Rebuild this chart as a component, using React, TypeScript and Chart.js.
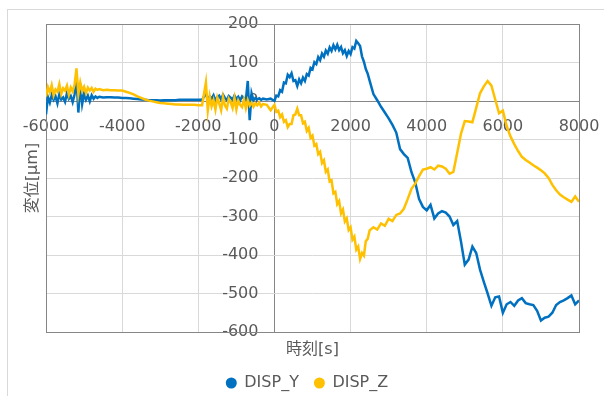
import { useEffect, useRef } from "react";
import { Chart, registerables } from "chart.js";

Chart.register(...registerables);

const FONT = '"DejaVu Sans", "Noto Sans CJK JP", sans-serif';
const TEXT = "#595959";
const GRID = "#d9d9d9";
const AXIS = "#868686";
const BLUE = "#0070c0";
const GOLD = "#ffc000";

const seriesNames = ["DISP_Y", "DISP_Z"];
const xTitle = "時刻[s]";
const yTitle = "変位[μm]";

// sample times [s]; denser where the signals are noisy
const timeSec = [
  -6000, -5950, -5900, -5850, -5800, -5750, -5700, -5650, -5600, -5550,
  -5500, -5450, -5400, -5350, -5300, -5250, -5200, -5150, -5100, -5050,
  -5000, -4950, -4900, -4850, -4800, -4750, -4700, -4650, -4600,
  -4500, -4400, -4300, -4200, -4100, -4000, -3900, -3800, -3700, -3600,
  -3500, -3400, -3300, -3200, -3100, -3000, -2900, -2800, -2700, -2600,
  -2500, -2400, -2300, -2200, -2100, -2000, -1900,
  -1800, -1750, -1700, -1650, -1600, -1550, -1500, -1450, -1400, -1350,
  -1300, -1250, -1200, -1150, -1100, -1050, -1000, -950, -900, -850,
  -800, -750, -700, -650, -600, -550, -500, -450, -400, -350, -300,
  -200, -100,
  0, 50, 100, 150, 200, 250, 300, 350, 400, 450,
  500, 550, 600, 650, 700, 750, 800, 850, 900, 950,
  1000, 1050, 1100, 1150, 1200, 1250, 1300, 1350, 1400, 1450,
  1500, 1550, 1600, 1650, 1700, 1750, 1800, 1850, 1900, 1950,
  2000, 2050, 2100, 2150, 2200, 2250, 2300, 2350, 2400, 2450, 2500,
  2600, 2700, 2800, 2900, 3000, 3100, 3200, 3300, 3400, 3500,
  3600, 3700, 3800, 3900, 4000, 4100, 4200, 4300, 4400, 4500,
  4600, 4700, 4800, 4900, 5000, 5100, 5200, 5300, 5400, 5500,
  5600, 5700, 5800, 5900, 6000, 6100, 6200, 6300, 6400, 6500,
  6600, 6700, 6800, 6900, 7000, 7100, 7200, 7300, 7400, 7500,
  7600, 7700, 7800, 7900, 8000,
];

// displacement Y [μm]
const dispY = [
  -35, 10, -4, 16, 3, 12, -6, 18, 4, 9,
  -2, 20, 6, 13, -3, 17, 62, -30, 45, -8,
  18, 3, 14, -1, 15, 6, 12, 8, 11,
  9, 10, 10, 9, 9, 8, 8, 7, 6, 5,
  4, 3, 2, 2, 2, 1, 2, 2, 2, 2,
  3, 3, 3, 3, 3, 3, 3,
  20, 3, 12, 6, 15, 1, 10, 14, 4, 16,
  8, 2, 13, 9, 3, 14, 5, 11, 2, 12,
  7, 3, 52, -50, 20, 2, 8, 4, 7, 3, 6,
  4, 6,
  0, 14, 12, 28, 24, 48, 46, 68, 62, 72,
  52, 54, 39, 56, 46, 61, 52, 70, 66, 86,
  82, 101, 96, 114, 106, 123, 115, 131, 123, 139,
  130, 145, 134, 146, 132, 140, 124, 132, 117, 130,
  122, 140, 136, 156, 150, 143, 116, 102, 83, 71, 53,
  18, 2, -15, -30, -45, -62, -82, -125, -138, -148,
  -185, -212, -255, -275, -284, -270, -305, -292, -286, -290,
  -300, -322, -312, -365, -425, -412, -378, -395, -438, -470,
  -500, -532, -510, -508, -550, -528, -522, -532, -518, -512,
  -525, -528, -530, -545, -570, -563, -560, -550, -530, -522,
  -518, -512, -505, -528, -518,
];

// displacement Z [μm]
const dispZ = [
  12, 36, 22, 41, 15, 30, 24, 44, 18, 33,
  27, 40, 16, 35, 25, 42, 85, 18, 48, 26,
  37, 21, 35, 27, 34, 24, 32, 29, 31,
  28, 29, 28, 28, 27, 27, 24, 21, 17, 12,
  8, 4, 1, -1, -3, -5, -6, -7, -8, -9,
  -9, -10, -10, -10, -10, -11, -11,
  48, -25, 12, -14, 2, -22, 9, -6, -24, 10,
  -12, -20, 6, -3, -18, 8, -22, 1, -10, -16,
  4, -19, 2, -12, -4, -15, -6, -11, -4, -14, -8,
  -10, -24,
  -10, -28, -25, -42, -35, -54, -50, -68, -60, -60,
  -37, -35, -20, -37, -37, -58, -54, -78, -70, -96,
  -90, -116, -112, -138, -132, -161, -154, -184, -178, -209,
  -206, -240, -236, -268, -260, -292, -282, -313, -305, -335,
  -328, -360, -352, -386, -378, -410, -395, -402, -364, -358, -336,
  -328, -334, -318, -324, -306, -312, -296, -292, -280, -255,
  -228, -214, -195, -178, -176, -172, -178, -168, -170, -176,
  -189, -184, -135, -85, -52, -53, -55, -18, 20, 38,
  52, 40, 4, -32, -25, -65, -92, -112, -130, -145,
  -153, -160, -167, -173, -180, -188, -200, -218, -232, -243,
  -250, -256, -262, -248, -262,
];

const frameTitlesLegend = {
  id: "frameTitlesLegend",
  beforeDraw(chart: Chart) {
    const { ctx } = chart;
    ctx.save();
    ctx.fillStyle = "#ffffff";
    ctx.fillRect(0, 0, chart.width, chart.height);
    ctx.strokeStyle = GRID;
    ctx.lineWidth = 1;
    ctx.strokeRect(7.5, 9.5, chart.width + 20, chart.height + 20);
    ctx.restore();
  },
  beforeDatasetsDraw(chart: Chart) {
    const { ctx, chartArea: a } = chart;
    ctx.save();
    ctx.strokeStyle = AXIS;
    ctx.lineWidth = 1;
    ctx.strokeRect(
      Math.round(a.left) + 0.5,
      Math.round(a.top) + 0.5,
      Math.round(a.right - a.left),
      Math.round(a.bottom - a.top)
    );
    ctx.restore();
  },
  afterDraw(chart: Chart) {
    const { ctx, chartArea: a } = chart;
    ctx.save();
    ctx.fillStyle = TEXT;
    ctx.font = `16px ${FONT}`;
    ctx.textBaseline = "middle";

    // axis titles
    ctx.textAlign = "center";
    ctx.fillText(xTitle, (a.left + a.right) / 2, a.bottom + 18);
    ctx.save();
    ctx.translate(33, (a.top + a.bottom) / 2);
    ctx.rotate(-Math.PI / 2);
    ctx.fillText(yTitle, 0, 0);
    ctx.restore();

    // legend below the plot
    const r = 5.5;
    const gapToText = 7.5;
    const gapItems = 15;
    const items = chart.data.datasets.map((ds) => ({
      text: String(ds.label),
      color: String(ds.borderColor),
      w: ctx.measureText(String(ds.label)).width,
    }));
    const total = items.reduce((s, it) => s + 2 * r + gapToText + it.w, 0) + gapItems * (items.length - 1);
    let x = 307 - total / 2;
    const y = 383;
    ctx.textAlign = "left";
    items.forEach((it) => {
      ctx.fillStyle = it.color;
      ctx.beginPath();
      ctx.arc(x + r, y, r, 0, Math.PI * 2);
      ctx.fill();
      x += 2 * r + gapToText;
      ctx.fillStyle = TEXT;
      ctx.fillText(it.text, x, y);
      x += it.w + gapItems;
    });
    ctx.restore();
  },
};

export default function App() {
  const ref = useRef<HTMLCanvasElement | null>(null);

  useEffect(() => {
    if (!ref.current) return;
    const toPoints = (vals: number[]) => timeSec.map((t, i) => ({ x: t, y: vals[i] }));
    const chart = new Chart(ref.current, {
      type: "line",
      data: {
        datasets: [
          {
            label: seriesNames[0],
            data: toPoints(dispY),
            borderColor: BLUE,
            backgroundColor: BLUE,
            borderWidth: 2.5,
            pointRadius: 0,
            tension: 0,
            order: 1,
          },
          {
            label: seriesNames[1],
            data: toPoints(dispZ),
            borderColor: GOLD,
            backgroundColor: GOLD,
            borderWidth: 2.5,
            pointRadius: 0,
            tension: 0,
            order: 0,
          },
        ],
      },
      options: {
        animation: false,
        responsive: false,
        devicePixelRatio: 1,
        layout: { padding: { left: 46, right: 25, top: 24, bottom: 64 } },
        scales: {
          x: {
            type: "linear",
            min: -6000,
            max: 8000,
            position: { y: 0 },
            grid: {
              color: (c) => (c.tick && c.tick.value === 0 ? AXIS : GRID),
              drawTicks: true,
              tickLength: 16,
              tickColor: "rgba(0,0,0,0)",
            },
            border: { color: AXIS, width: 1 },
            ticks: {
              stepSize: 2000,
              color: TEXT,
              font: { size: 16, family: FONT },
              padding: 0,
              maxRotation: 0,
              callback: (v) => String(v),
            },
          },
          y: {
            type: "linear",
            min: -600,
            max: 200,
            // labels sit just left of the x = 0 line
            position: { x: -420 },
            grid: { color: GRID, drawTicks: false },
            border: { display: false },
            ticks: {
              stepSize: 100,
              color: TEXT,
              font: { size: 16, family: FONT },
              callback: (v) => String(v),
            },
          },
        },
        plugins: {
          legend: { display: false },
          tooltip: { enabled: false },
        },
      },
      plugins: [frameTitlesLegend],
    });
    return () => chart.destroy();
  }, []);

  return (
    <div style={{ position: "absolute", left: 0, top: 0, width: 604, height: 396 }}>
      <canvas ref={ref} width={604} height={396} />
    </div>
  );
}
